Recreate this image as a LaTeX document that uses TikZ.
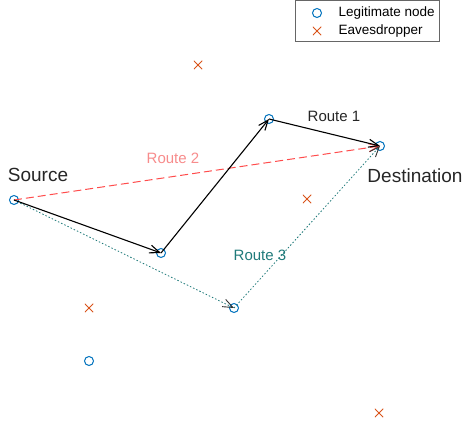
\documentclass[tikz,border=0pt]{standalone}
\usepackage{fontspec}
\setmainfont{Liberation Sans}
\usetikzlibrary{arrows.meta}
\definecolor{mblue}{rgb}{0,0.447,0.741}
\definecolor{morange}{rgb}{0.85,0.325,0.098}
\definecolor{rtred}{rgb}{1,0.3,0.3}
\definecolor{rtredtext}{rgb}{0.97,0.55,0.55}
\definecolor{rtteal}{rgb}{0.12,0.48,0.48}
\definecolor{txtgray}{rgb}{0.15,0.15,0.15}
\tikzset{
  legit/.style={circle,draw=mblue,line width=1pt,inner sep=0pt,minimum size=9pt},
  eave/.style={inner sep=0pt,minimum size=8.5pt,
    path picture={\draw[morange,line width=0.9pt]
      (path picture bounding box.south west)--(path picture bounding box.north east)
      (path picture bounding box.north west)--(path picture bounding box.south east);}},
  head/.style={-{Straight Barb[length=10pt,width=8pt]}},
  route1/.style={head,black,line width=1.1pt},
  route2/.style={head,rtred,line width=1pt,dash pattern=on 8pt off 4pt},
  route3/.style={-{Straight Barb[length=10pt,width=8pt,black!80,line width=0.9pt]},rtteal,line width=0.8pt,dash pattern=on 1.5pt off 2pt},
  big/.style={font=\fontsize{19}{22}\selectfont,text=txtgray},
  lab/.style={font=\fontsize{15}{18}\selectfont},
  legtext/.style={font=\fontsize{13.5}{16}\selectfont,text=black,anchor=west}
}
\begin{document}
\begin{tikzpicture}[x=1pt,y=-1pt]
\useasboundingbox (0,0) rectangle (464,427);
% legitimate nodes
\node[legit] (S) at (14,200) {};
\node[legit] (A) at (161,253) {};
\node[legit] (B) at (269,119) {};
\node[legit] (D) at (380,146) {};
\node[legit] (C) at (234,308) {};
\node[legit] (L) at (89,361) {};
% eavesdroppers
\node[eave] (E1) at (198,65) {};
\node[eave] (E2) at (307,199) {};
\node[eave] (E3) at (89,308) {};
\node[eave] (E4) at (379,413) {};
% routes
\draw[route2] (S.center) -- (D.center);
\draw[route3] (S.center) -- (C.center);
\draw[route3] (C.center) -- (D.center);
\draw[route1] (S.center) -- (A.center);
\draw[route1] (A.center) -- (B.center);
\draw[route1] (B.center) -- (D.center);
% labels
\node[big] (tS) at (38,175) {Source};
\node[big] (tD) at (415,176) {Destination};
\node[lab,text=txtgray] (r1) at (334,116) {Route 1};
\node[lab,text=rtredtext] (r2) at (173,158) {Route 2};
\node[lab,text=rtteal] (r3) at (260,255) {Route 3};
% legend
\draw[line width=0.6pt,draw=black!60,fill=white] (295,0.5) rectangle (439,41);
\node[legit] (lg1) at (317,13) {};
\node[eave] (lg2) at (317,31) {};
\node[legtext] (lt1) at (335,13) {Legitimate node};
\node[legtext] (lt2) at (335,31) {Eavesdropper};
\end{tikzpicture}
\end{document}
